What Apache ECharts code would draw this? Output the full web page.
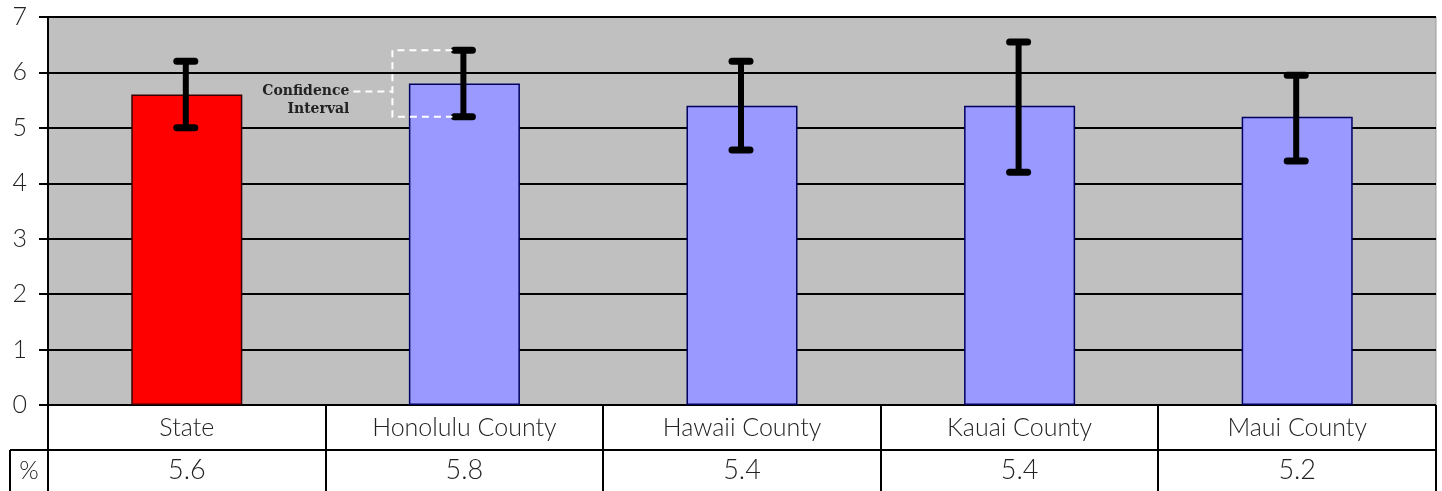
<!DOCTYPE html>
<html><head><meta charset="utf-8">
<script src="https://cdn.jsdelivr.net/npm/echarts@6/dist/echarts.min.js"></script>
<style>html,body{margin:0;padding:0;background:#fff}#c{width:1442px;height:491px}</style>
</head><body><div id="c"></div>
<script>
var categories = ['State', 'Honolulu County', 'Hawaii County', 'Kauai County', 'Maui County'];
var values = [5.6, 5.8, 5.4, 5.4, 5.2];
var ciLow = [5.0, 5.2, 4.6, 4.2, 4.4];
var ciHigh = [6.2, 6.4, 6.2, 6.55, 5.95];
var yTicks = [0, 1, 2, 3, 4, 5, 6, 7];
var rowLabel = '%';
var barColors = ['#FF0000', '#9999FF', '#9999FF', '#9999FF', '#9999FF'];
var barBorders = ['#3a0000', '#000060', '#000060', '#000060', '#000060'];

var FONT = 'Lato, "Open Sans", sans-serif';
var chart = echarts.init(document.getElementById('c'), null, {renderer: 'canvas'});

var option = {
  animation: false,
  grid: {left: 48, right: 6, top: 17, bottom: 86, show: true, backgroundColor: '#C0C0C0', borderColor: '#9a9a9a', borderWidth: 1},
  xAxis: [{
    type: 'category', data: categories, position: 'bottom',
    axisLine: {show: false}, axisTick: {show: false},
    axisLabel: {color: '#222', fontSize: 25, fontWeight: 300, fontFamily: FONT, margin: 10, lineHeight: 26}
  }, {
    type: 'category', data: values.map(function(v){return v.toFixed(1);}), position: 'bottom', offset: 42,
    axisLine: {show: false}, axisTick: {show: false},
    axisLabel: {color: '#222', fontSize: 27, fontWeight: 300, fontFamily: FONT, margin: 9, lineHeight: 28}
  }],
  yAxis: {
    type: 'value', min: yTicks[0], max: yTicks[yTicks.length - 1], interval: 1,
    axisLine: {show: true, lineStyle: {color: '#000', width: 2}},
    axisTick: {show: true, length: 9, lineStyle: {color: '#000', width: 2}},
    axisLabel: {color: '#222', fontSize: 25, fontWeight: 300, fontFamily: FONT, margin: 21},
    splitLine: {show: true, lineStyle: {color: '#000', width: 2}}
  },
  series: [{
    type: 'bar', xAxisIndex: 0, barWidth: '40%',
    data: values.map(function(v, i){
      return {value: v, itemStyle: {color: barColors[i], borderColor: barBorders[i], borderWidth: 1.5}};
    }),
    z: 2
  }, {
    type: 'custom', xAxisIndex: 0, z: 5,
    data: categories.map(function(c, i){ return [i, ciLow[i], ciHigh[i]]; }),
    renderItem: function(params, api){
      var lo = api.coord([api.value(0), api.value(1)]);
      var hi = api.coord([api.value(0), api.value(2)]);
      var x = lo[0] - 1;
      var st = {stroke: '#000', lineWidth: 7, lineCap: 'round'};
      return {type: 'group', children: [
        {type: 'line', shape: {x1: x, y1: hi[1], x2: x, y2: lo[1]}, style: {stroke: '#000', lineWidth: 6}},
        {type: 'line', shape: {x1: x - 9, y1: hi[1], x2: x + 9, y2: hi[1]}, style: st},
        {type: 'line', shape: {x1: x - 9, y1: lo[1], x2: x + 9, y2: lo[1]}, style: st}
      ]};
    }
  }]
};
chart.setOption(option);

function px(ci, v){ return chart.convertToPixel({xAxisIndex: 0, yAxisIndex: 0}, [ci, v]); }
var gridRect = chart.getModel().getComponent('grid').coordinateSystem.getRect();
var L = gridRect.x, R = gridRect.x + gridRect.width, B = gridRect.y + gridRect.height;
var catW = gridRect.width / categories.length;
var row1 = B + 45, row2 = 491;
var els = [];
var ls = {stroke: '#000', lineWidth: 2};
els.push({type: 'line', shape: {x1: L, y1: B, x2: R, y2: B}, style: ls});
els.push({type: 'line', shape: {x1: 10, y1: row1, x2: R, y2: row1}, style: ls});
els.push({type: 'line', shape: {x1: L, y1: B, x2: L, y2: row2}, style: ls});
els.push({type: 'line', shape: {x1: 10, y1: row1, x2: 10, y2: row2}, style: ls});
for (var i = 1; i <= categories.length; i++) {
  var xx = Math.round(L + catW * i);
  if (i === categories.length) xx = R;
  els.push({type: 'line', shape: {x1: xx, y1: B, x2: xx, y2: row2}, style: ls});
}
els.push({type: 'text', x: (10 + L) / 2, y: (row1 + row2) / 2, style: {text: rowLabel, fill: '#222', font: '300 25px ' + FONT, align: 'center', verticalAlign: 'middle'}});

// Confidence interval annotation on Honolulu County
var hTop = px(1, ciHigh[1]), hBot = px(1, ciLow[1]);
var cx = hTop[0];
var boxL = cx - 72, boxR = cx - 12;
var midY = hTop[1] + (hBot[1] - hTop[1]) * 0.62;
var ds = {stroke: '#fff', lineWidth: 2, lineDash: [7, 5]};
els.push({type: 'polyline', shape: {points: [[boxR, hTop[1]], [boxL, hTop[1]], [boxL, hBot[1]], [boxR, hBot[1]]]}, style: Object.assign({fill: null}, ds), z: 10});
els.push({type: 'line', shape: {x1: boxL - 39, y1: midY, x2: boxL, y2: midY}, style: ds, z: 10});
els.push({type: 'text', x: boxL - 43, y: midY, style: {text: 'Confidence', fill: '#222', font: 'bold 14px "DejaVu Serif", serif', align: 'right', verticalAlign: 'middle'}, z: 10});
els.push({type: 'text', x: boxL - 43, y: midY + 18, style: {text: 'Interval', fill: '#222', font: 'bold 14px "DejaVu Serif", serif', align: 'right', verticalAlign: 'middle'}, z: 10});

chart.setOption({graphic: {elements: els}});
</script>
</body></html>
